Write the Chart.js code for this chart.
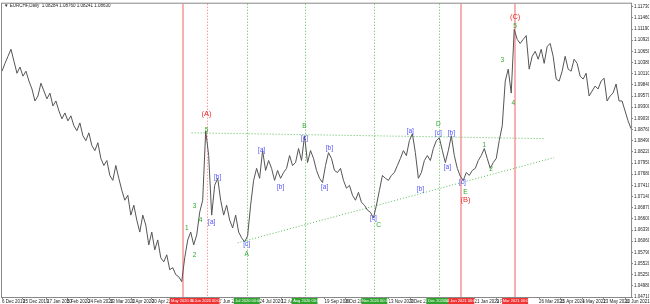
<!DOCTYPE html>
<html>
<head>
<meta charset="utf-8">
<script src="https://cdn.jsdelivr.net/npm/chart.js@4.4.0/dist/chart.umd.min.js"></script>
<style>
  html, body { margin: 0; padding: 0; background: #fff; }
  #wrap { width: 650px; height: 304px; }
</style>
</head>
<body>
<div id="wrap"><canvas id="grafico"></canvas></div>
<script>
// EURCHF daily closes (every 2nd bar)
const closes = [
  1.1017, 1.1036, 1.1053, 1.1070, 1.1041, 1.1012, 1.1027, 1.1005, 1.1017, 1.0993,
  1.0974, 1.0945, 1.0957, 1.0988, 1.0969, 1.0950, 1.0964, 1.0933, 1.0945, 1.0921,
  1.0902, 1.0916, 1.0897, 1.0909, 1.0885, 1.0873, 1.0892, 1.0861, 1.0849, 1.0868,
  1.0837, 1.0825, 1.0844, 1.0806, 1.0789, 1.0801, 1.0765, 1.0753, 1.0789, 1.0758,
  1.0729, 1.0705, 1.0717, 1.0669, 1.0693, 1.0657, 1.0628, 1.0669, 1.0645, 1.0597,
  1.0628, 1.0585, 1.0609, 1.0566, 1.0556, 1.0573, 1.0537, 1.0542, 1.0525, 1.0520,
  1.0508, 1.0566, 1.0609, 1.0628, 1.0597, 1.0621, 1.0676, 1.0705, 1.0873, 1.0813,
  1.0669, 1.0741, 1.0758, 1.0705, 1.0669, 1.0693, 1.0657, 1.0638, 1.0669, 1.0628,
  1.0614, 1.0604, 1.0619, 1.0693, 1.0753, 1.0782, 1.0758, 1.0825, 1.0777, 1.0801,
  1.0782, 1.0753, 1.0777, 1.0758, 1.0772, 1.0782, 1.0813, 1.0789, 1.0796, 1.0830,
  1.0801, 1.0861, 1.0796, 1.0825, 1.0806, 1.0777, 1.0758, 1.0748, 1.0789, 1.0820,
  1.0806, 1.0777, 1.0772, 1.0782, 1.0753, 1.0734, 1.0741, 1.0717, 1.0705, 1.0724,
  1.0700, 1.0693, 1.0681, 1.0676, 1.0662, 1.0693, 1.0729, 1.0765, 1.0758, 1.0753,
  1.0765, 1.0772, 1.0789, 1.0806, 1.0825, 1.0813, 1.0849, 1.0866, 1.0820, 1.0758,
  1.0772, 1.0801, 1.0813, 1.0801, 1.0830, 1.0849, 1.0856, 1.0825, 1.0796, 1.0825,
  1.0861, 1.0813, 1.0782, 1.0763, 1.0753, 1.0772, 1.0765, 1.0777, 1.0782, 1.0801,
  1.0813, 1.0830, 1.0806, 1.0782, 1.0796, 1.0806, 1.0849, 1.0885, 1.0993, 1.1022,
  1.0964, 1.1118, 1.1094, 1.1084, 1.1094, 1.1103, 1.1022, 1.1053, 1.1065, 1.1046,
  1.1070, 1.1036, 1.1077, 1.1084, 1.1053, 1.0998, 1.0993, 1.1017, 1.1053, 1.1022,
  1.1017, 1.1046, 1.1036, 1.1005, 1.0998, 1.1012, 1.0957, 1.0969, 1.0981, 1.0974,
  1.0993, 1.1000, 1.0945, 1.0957, 1.0964, 1.0986, 1.0945, 1.0945, 1.0921, 1.0897,
  1.0878
];

// price axis labels
const yTicks = [
  1.11730, 1.11460, 1.11190, 1.10920, 1.10650, 1.10380, 1.10110, 1.09840, 1.09570,
  1.09300, 1.09030, 1.08760, 1.08490, 1.08220, 1.07950, 1.07680, 1.07410, 1.07140,
  1.06870, 1.06600, 1.06330, 1.06060, 1.05790, 1.05520, 1.05250, 1.04980, 1.04710
];

// time axis labels (index into closes)
const xTickIdx = [0, 7, 15, 21.7, 28.7, 36, 43.3, 50, 71.7, 86, 93.3, 107.7, 114.7, 129, 136.3, 157.7, 165, 179.3, 186.3, 193.7, 200.7, 208];
const xTickLabels = [
  '6 Dec 2019', '25 Dec 2019', '17 Jan 2020', '5 Feb 2020', '24 Feb 2020', '13 Mar 2020',
  '1 Apr 2020', '20 Apr 2020', '17 Jun 2020', '24 Jul 2020', '12 Aug 2020', '19 Sep 2020',
  '8 Oct 2020', '13 Nov 2020', '3 Dec 2020', '21 Jan 2021', '9 Feb 2021', '26 Mar 2021',
  '15 Apr 2021', '4 May 2021', '23 May 2021', '10 Jun 2021'
];

// vertical markers: index, colour, dotted, date shown on the axis
const vIdx = [60.3, 68.3, 81.7, 101, 124.3, 146, 153.3, 171.3];
const vColor = ['r', 'r', 'g', 'g', 'g', 'g', 'r', 'r'];
const vDotted = [false, true, true, true, true, true, false, false];
const vDates = ['14 May 2020', '5 Jun 2020', '3 Jul 2020', '27 Aug 2020', '4 Nov 2020', '30 Dec 2020', '14 Jan 2021', '4 Mar 2021'];

// trend lines [i0, p0, i1, p1]
const trendUpper = [63.3, 1.0868, 181, 1.0854];
const trendLower = [78.7, 1.0602, 184.3, 1.0808];

// wave counts: text, index, price, colour
const waveText = ['(A)', '5', '1', '2', '3', '4', '[a]', '[b]', '[c]', 'A', '[a]', '[b]', 'B', '[c]',
  '[b]', '[a]', '[c]', 'C', '[a]', '[b]', 'D', '[c]', '[b]', '[a]', '[c]', 'E', '(B)',
  '1', '2', '3', '4', '5', '(C)'];
const waveIdx = [68.3, 68.3, 61.7, 64.3, 64.3, 66.3, 70, 72, 81.7, 81.7, 86.7, 93, 101, 101,
  109.3, 107.7, 124, 125.7, 136.3, 139.7, 145.7, 145.7, 150, 148.7, 153.7, 154.7, 154.7,
  161, 163.3, 167, 170.7, 171.3, 171.3];
const wavePrice = [1.0914, 1.0875, 1.0638, 1.0573, 1.0691, 1.0657, 1.0652, 1.0760, 1.0599, 1.0575,
  1.0825, 1.0736, 1.0885, 1.0854, 1.0832, 1.0736, 1.0662, 1.0645, 1.0873, 1.0731, 1.0890,
  1.0868, 1.0868, 1.0784, 1.0748, 1.0724, 1.0705, 1.0837, 1.0779, 1.1043, 1.0940, 1.1125, 1.1147];
const waveColor = ['r', 'g', 'g', 'g', 'g', 'g', 'b', 'b', 'b', 'g', 'b', 'b', 'g', 'b',
  'b', 'b', 'b', 'g', 'b', 'b', 'g', 'b', 'b', 'b', 'b', 'g', 'r',
  'g', 'g', 'g', 'g', 'g', 'r'];

const FONT = "'Liberation Sans', Arial, sans-serif";
const colores = { r: '#ee2a2a', g: '#2ea82e', b: '#4f4fff' };

const overlay = {
  id: 'overlay',
  beforeDatasetsDraw(chart) {
    const { ctx, chartArea: a, scales: { x, y } } = chart;
    ctx.save();
    vIdx.forEach((v, k) => {
      const px = Math.round(x.getPixelForValue(v));
      if (vDotted[k]) {
        ctx.lineWidth = 1;
        ctx.strokeStyle = vColor[k] === 'r' ? '#ff6a6a' : '#55bb55';
        ctx.setLineDash([1, 2]);
        ctx.beginPath();
        ctx.moveTo(px + 0.5, a.top);
        ctx.lineTo(px + 0.5, a.bottom);
      } else {
        ctx.lineWidth = 2;
        ctx.strokeStyle = '#fbb0b0';
        ctx.setLineDash([]);
        ctx.beginPath();
        ctx.moveTo(px, a.top);
        ctx.lineTo(px, a.bottom);
      }
      ctx.stroke();
    });
    ctx.lineWidth = 1;
    ctx.strokeStyle = '#55bb55';
    ctx.setLineDash([1, 2]);
    [trendUpper, trendLower].forEach(t => {
      ctx.beginPath();
      ctx.moveTo(x.getPixelForValue(t[0]), y.getPixelForValue(t[1]));
      ctx.lineTo(x.getPixelForValue(t[2]), y.getPixelForValue(t[3]));
      ctx.stroke();
    });
    ctx.restore();
  },
  afterDatasetsDraw(chart) {
    const { ctx, scales: { x, y } } = chart;
    ctx.save();
    ctx.textAlign = 'center';
    ctx.textBaseline = 'middle';
    waveText.forEach((t, k) => {
      const big = t.startsWith('(');
      ctx.font = (big ? '7.5px ' : '6.5px ') + FONT;
      ctx.fillStyle = colores[waveColor[k]];
      ctx.fillText(t, x.getPixelForValue(waveIdx[k]), y.getPixelForValue(wavePrice[k]));
    });
    ctx.restore();
  },
  afterDraw(chart) {
    const { ctx, chartArea: a, scales: { x } } = chart;
    ctx.save();
    // header
    ctx.font = '4.5px ' + FONT;
    ctx.fillStyle = '#222';
    ctx.textBaseline = 'middle';
    ctx.fillText('\u25BC EURCHF,Daily  1.08284 1.08760 1.08241 1.08630', 4, 6);
    // frame
    ctx.strokeStyle = '#888';
    ctx.lineWidth = 1;
    ctx.strokeRect(a.left - 0.5, a.top - 0.5, a.right - a.left + 1, a.bottom - a.top + 1);
    // date boxes on the time axis
    ctx.textAlign = 'center';
    ctx.font = '4px ' + FONT;
    vIdx.forEach((v, k) => {
      const px = x.getPixelForValue(v);
      ctx.fillStyle = vColor[k] === 'r' ? '#f03434' : '#2fa52f';
      ctx.fillRect(px - 13, a.bottom + 1, 26, 6);
      ctx.fillStyle = '#fff';
      ctx.fillText(vDates[k] + ' 00:00', px, a.bottom + 4.2);
    });
    ctx.restore();
  }
};

new Chart(document.getElementById('grafico'), {
  type: 'line',
  data: {
    labels: closes.map((_, i) => i),
    datasets: [{
      data: closes,
      borderColor: '#555555',
      borderWidth: 1,
      pointRadius: 0,
      tension: 0
    }]
  },
  options: {
    responsive: true,
    maintainAspectRatio: false,
    animation: false,
    layout: { padding: { left: 2, top: 2, right: 0, bottom: 0 } },
    plugins: { legend: { display: false }, tooltip: { enabled: false } },
    scales: {
      x: {
        type: 'linear',
        min: 0,
        max: closes.length - 1,
        grid: { drawOnChartArea: false, tickLength: 2, color: '#888' },
        border: { display: false },
        afterBuildTicks: s => { s.ticks = xTickIdx.map(v => ({ value: v })); },
        afterFit: s => { s.height = 7; },
        ticks: {
          autoSkip: false,
          maxRotation: 0,
          align: 'start',
          padding: 0,
          font: { size: 4.5, family: FONT },
          color: '#222',
          callback: (v, k) => xTickLabels[k]
        }
      },
      y: {
        position: 'right',
        min: 1.04710,
        max: 1.11802,
        grid: { drawOnChartArea: false, tickLength: 2, color: '#888' },
        border: { display: false },
        afterBuildTicks: s => { s.ticks = yTicks.map(v => ({ value: v })); },
        afterFit: s => { s.width = 18; },
        ticks: {
          padding: 1,
          font: { size: 4.5, family: FONT },
          color: '#222',
          callback: v => v.toFixed(5)
        }
      }
    }
  },
  plugins: [overlay]
});
</script>
</body>
</html>
